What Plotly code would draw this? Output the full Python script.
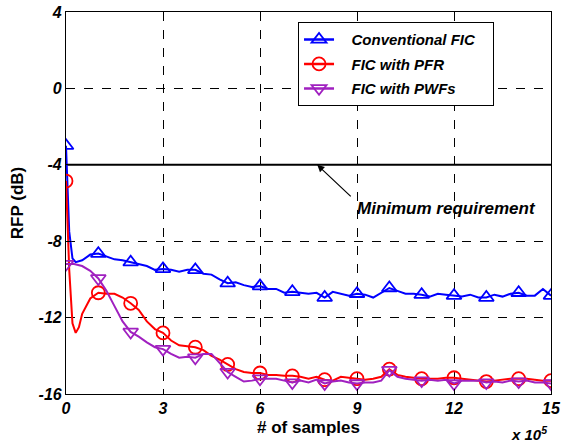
import plotly.graph_objects as go

# x in units of 1e5 samples
conv_x = [0, 0.1, 0.2, 0.3, 0.5, 0.75, 1, 1.25, 1.5, 1.75, 2, 2.25, 2.5, 2.75, 3, 3.25, 3.5, 3.75, 4, 4.25, 4.5, 4.75,
          5, 5.25, 5.5, 5.75, 6, 6.25, 6.5, 6.75, 7, 7.25, 7.5, 7.75, 8, 8.25, 8.5, 8.75, 9, 9.25, 9.5, 9.75,
          10, 10.25, 10.5, 10.75, 11, 11.25, 11.5, 11.75, 12, 12.25, 12.5, 12.75, 13, 13.25, 13.5, 13.75,
          14, 14.25, 14.5, 14.75, 15]
conv_y = [-3.0, -7.5, -8.9, -9.1, -9.0, -8.7, -8.65, -8.8, -8.95, -9.0, -9.1, -9.2, -9.3, -9.5, -9.45, -9.5, -9.6, -9.5,
          -9.5, -9.7, -9.75, -10.0, -10.2, -10.15, -10.3, -10.4, -10.35, -10.5, -10.5, -10.7, -10.65, -10.7, -10.75, -10.7,
          -10.95, -10.65, -10.75, -10.85, -10.75, -10.8, -10.95, -10.7, -10.45, -10.6, -10.75, -10.75, -10.8, -10.9,
          -10.75, -10.8, -10.85, -10.9, -10.8, -10.95, -10.95, -10.8, -10.9, -10.75, -10.7, -10.85, -10.85, -10.5, -10.85]

pfr_x = [0, 0.1, 0.2, 0.3, 0.4, 0.5, 0.75, 1, 1.25, 1.5, 1.75, 2, 2.25, 2.5, 2.75, 3, 3.25, 3.5, 3.75, 4, 4.25, 4.5, 4.75,
         5, 5.25, 5.5, 5.75, 6, 6.25, 6.5, 6.75, 7, 7.25, 7.5, 7.75, 8, 8.25, 8.5, 8.75, 9, 9.25, 9.5, 9.75,
         10, 10.25, 10.5, 10.75, 11, 11.25, 11.5, 11.75, 12, 12.25, 12.5, 12.75, 13, 13.25, 13.5, 13.75,
         14, 14.25, 14.5, 14.75, 15]
pfr_y = [-4.85, -9.5, -12.3, -12.8, -12.5, -11.8, -11.0, -10.7, -10.75, -10.75, -10.95, -11.25, -11.6, -12.2, -12.6, -12.8,
         -13.2, -13.45, -13.5, -13.55, -13.7, -14.0, -14.2, -14.45, -14.7, -14.85, -14.9, -14.9, -15.0, -15.0, -15.05,
         -15.05, -15.1, -15.2, -15.1, -15.25, -15.3, -15.1, -15.15, -15.2, -15.25, -15.2, -15.1, -14.7, -15.0, -15.1,
         -15.15, -15.2, -15.2, -15.2, -15.15, -15.15, -15.2, -15.25, -15.3, -15.35, -15.3, -15.25, -15.2, -15.2, -15.2,
         -15.25, -15.3, -15.3]

pwf_x = [0, 0.25, 0.5, 0.75, 1, 1.25, 1.5, 1.75, 2, 2.25, 2.5, 2.75, 3, 3.25, 3.5, 3.75, 4, 4.25, 4.5, 4.75,
         5, 5.25, 5.5, 5.75, 6, 6.25, 6.5, 6.75, 7, 7.25, 7.5, 7.75, 8, 8.25, 8.5, 8.75, 9, 9.25, 9.5, 9.75,
         10, 10.25, 10.5, 10.75, 11, 11.25, 11.5, 11.75, 12, 12.25, 12.5, 12.75, 13, 13.25, 13.5, 13.75,
         14, 14.25, 14.5, 14.75, 15]
pwf_y = [-9.2, -9.2, -9.3, -9.55, -9.95, -10.6, -11.4, -12.2, -12.75, -13.0, -13.3, -13.55, -13.65, -13.9, -14.1, -14.05,
         -14.1, -13.9, -13.9, -14.4, -14.85, -15.1, -15.35, -15.3, -15.2, -15.2, -15.2, -15.3, -15.4, -15.3, -15.4, -15.25,
         -15.45, -15.35, -15.3, -15.4, -15.45, -15.4, -15.4, -15.3, -14.75, -15.1, -15.2, -15.25, -15.3, -15.25, -15.3,
         -15.25, -15.45, -15.3, -15.3, -15.3, -15.4, -15.35, -15.4, -15.3, -15.35, -15.3, -15.4, -15.4, -15.45]

req_x = [0, 15]
req_y = [-4, -4]

x_ticks = [0, 3, 6, 9, 12, 15]
y_ticks = [4, 0, -4, -8, -12, -16]

names = ["Conventional FIC", "FIC with PFR", "FIC with PWFs"]

FONT = "Arial, 'Liberation Sans', sans-serif"
PAD = "\u00a0\u00a0\u00a0"


def at_integers(xs, ys):
    pts = [(a, b) for a, b in zip(xs, ys) if abs(a - round(a)) < 1e-9]
    return [p[0] for p in pts], [p[1] for p in pts]


fig = go.Figure()
fig.add_trace(go.Scatter(x=req_x, y=req_y, mode="lines", line=dict(color="black", width=2),
                         showlegend=False, hoverinfo="skip"))

series = [
    (conv_x, conv_y, names[0] + PAD, "#0000FF", "triangle-up-open"),
    (pfr_x, pfr_y, names[1], "#FF0000", "circle-open"),
    (pwf_x, pwf_y, names[2], "#A020C0", "triangle-down-open"),
]
for xs, ys, nm, col, sym in series:
    fig.add_trace(go.Scatter(x=xs, y=ys, mode="lines", line=dict(color=col, width=2),
                             showlegend=False, legendgroup=nm))
    mx, my = at_integers(xs, ys)
    fig.add_trace(go.Scatter(x=mx, y=my, mode="markers", showlegend=False, legendgroup=nm,
                             marker=dict(symbol=sym, size=13, color=col, line=dict(width=1.8, color=col))))
    fig.add_trace(go.Scatter(x=[None], y=[None], mode="lines+markers", name=PAD + nm, legendgroup=nm,
                             line=dict(color=col, width=2.5),
                             marker=dict(symbol=sym, size=13, color=col, line=dict(width=1.8, color=col))))

axis_common = dict(showline=True, linecolor="black", linewidth=1.2, mirror=True, automargin=False,
                   showgrid=True, gridcolor="black", griddash="dash", gridwidth=0.8,
                   zeroline=False, ticks="inside", ticklen=5, tickcolor="black",
                   tickfont=dict(family=FONT, size=16, color="black", weight="bold", style="italic"))

fig.update_xaxes(range=[0, 15], tickvals=x_ticks, ticktext=[str(v) for v in x_ticks],
                 title=dict(text="<b># of samples</b>", font=dict(family=FONT, size=17, color="black"),
                            standoff=4),
                 **axis_common)
fig.update_yaxes(range=[-16, 4], tickvals=y_ticks, ticktext=[str(v) for v in y_ticks],
                 title=dict(text="<b>RFP (dB)</b>", font=dict(family=FONT, size=17, color="black"),
                            standoff=10),
                 **axis_common)

fig.add_annotation(x=7.77, y=-4, ax=35, ay=33, axref="pixel", ayref="pixel",
                   xref="x", yref="y", showarrow=True, arrowhead=2, arrowsize=1.2, arrowwidth=1.2,
                   arrowcolor="black", text="")
fig.add_annotation(x=11.76, y=-6.3, xref="x", yref="y", showarrow=False,
                   text="<b><i>Minimum requirement</i></b>",
                   font=dict(family=FONT, size=17, color="black"))
fig.add_annotation(x=0.995, y=-0.133, xref="paper", yref="paper", xanchor="right", yanchor="bottom",
                   showarrow=False, text="<b><i>x 10<sup>5</sup></i></b>",
                   font=dict(family=FONT, size=15, color="black"))

fig.update_layout(
    width=563, height=445,
    margin=dict(l=66, r=12, t=12, b=51),
    paper_bgcolor="white", plot_bgcolor="white",
    font=dict(family=FONT, color="black"),
    legend=dict(x=0.478, y=0.974, xanchor="left", yanchor="top",
                bgcolor="white", bordercolor="black", borderwidth=1.2,
                font=dict(family=FONT, size=15, color="black", weight="bold", style="italic"),
                tracegroupgap=2),
)

fig.write_html("out.html", config={"displayModeBar": False},
               post_script="document.body.style.margin='0';")
